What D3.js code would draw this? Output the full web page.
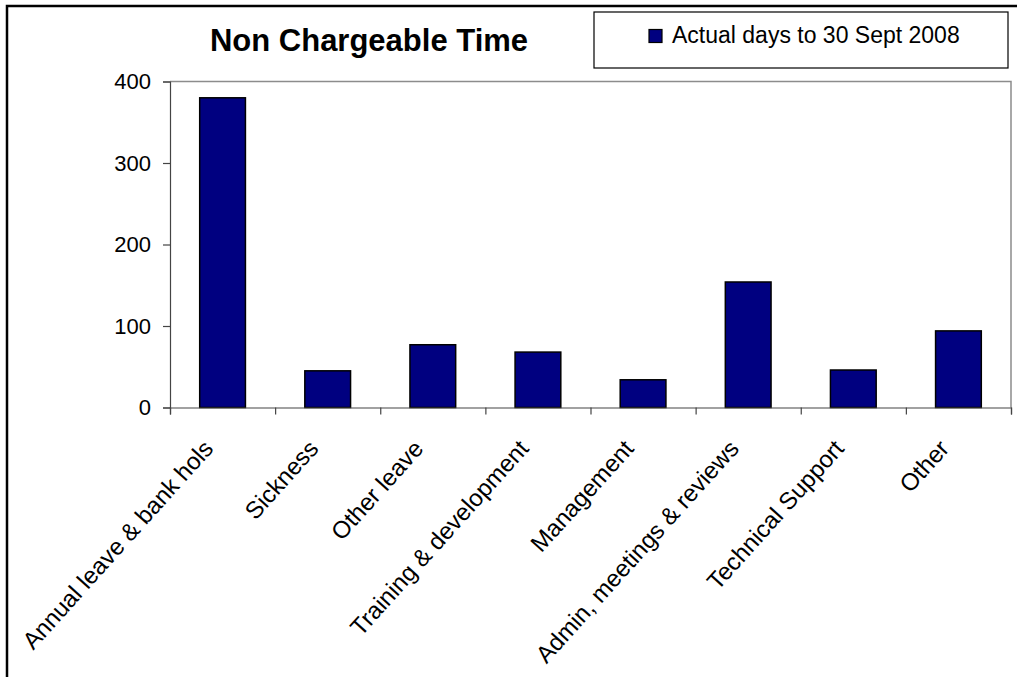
<!DOCTYPE html>
<html>
<head>
<meta charset="utf-8">
<script src="https://cdn.jsdelivr.net/npm/d3@7"></script>
<style>
  html, body { margin: 0; padding: 0; background: #fff; }
  svg { display: block; font-family: Arial, "Liberation Sans", sans-serif; }
</style>
</head>
<body>
<svg id="chart" width="1017" height="677"></svg>
<script>
// Non chargeable time, actual days to 30 Sept 2008
const categories = [
  "Annual leave & bank hols",
  "Sickness",
  "Other leave",
  "Training & development",
  "Management",
  "Admin, meetings & reviews",
  "Technical Support",
  "Other"
];
const actualDays = [380, 45, 77, 68, 34, 154, 46, 94];
const yTicks = [0, 100, 200, 300, 400];
const seriesName = "Actual days to 30 Sept 2008";
const chartTitle = "Non Chargeable Time";

const svg = d3.select("#chart");
const W = 1017, H = 677;
const plot = { left: 170, right: 1011, top: 81.5, bottom: 407.5 };

// outer chart frame (runs off the right and bottom edges)
svg.append("rect")
  .attr("x", 7).attr("y", 6)
  .attr("width", W + 20).attr("height", H + 20)
  .attr("fill", "none").attr("stroke", "#000").attr("stroke-width", 2.5);

const x = d3.scaleBand()
  .domain(categories)
  .range([plot.left, plot.right])
  .paddingInner(0.565)
  .paddingOuter(0.2825);

const y = d3.scaleLinear().domain([0, 400]).range([plot.bottom, plot.top]);

// plot-area border (top and right edges)
svg.append("path")
  .attr("d", `M${plot.left},${plot.top}H${plot.right}V${plot.bottom}`)
  .attr("fill", "none").attr("stroke", "#8c8c8c").attr("stroke-width", 1.5);

// bars
svg.append("g").selectAll("rect")
  .data(categories)
  .join("rect")
  .attr("x", d => x(d))
  .attr("y", (d, i) => y(actualDays[i]))
  .attr("width", x.bandwidth())
  .attr("height", (d, i) => y(0) - y(actualDays[i]))
  .attr("fill", "#000080")
  .attr("stroke", "#000")
  .attr("stroke-width", 1.5);

// y axis
const yAxis = svg.append("g")
  .attr("transform", `translate(${plot.left},0)`)
  .call(d3.axisLeft(y).tickValues(yTicks).tickSize(7).tickPadding(12).tickFormat(d3.format("d")));
yAxis.select(".domain").attr("stroke", "#444").attr("stroke-width", 1.2);
yAxis.selectAll(".tick line").attr("stroke", "#444").attr("stroke-width", 1.2);
yAxis.selectAll(".tick text")
  .attr("font-size", 22).attr("fill", "#000")
  .attr("font-family", "Arial, 'Liberation Sans', sans-serif")
  .attr("dy", "0.33em");

// x axis: tick marks on the category boundaries
const xb = d3.scaleLinear().domain([0, categories.length]).range([plot.left, plot.right]);
const xAxis = svg.append("g")
  .attr("transform", `translate(0,${plot.bottom})`)
  .call(d3.axisBottom(xb).tickValues(d3.range(categories.length + 1)).tickSize(7).tickFormat(""));
xAxis.select(".domain").attr("stroke", "#444").attr("stroke-width", 1.2);
xAxis.selectAll(".tick line").attr("stroke", "#444").attr("stroke-width", 1.2);

// rotated category labels
svg.append("g").selectAll("text")
  .data(categories)
  .join("text")
  .attr("transform", d => `translate(${x(d) + x.bandwidth() / 2 - 8},${plot.bottom + 42}) rotate(-48)`)
  .attr("text-anchor", "end")
  .attr("font-size", 24)
  .attr("fill", "#000")
  .text(d => d);

// title
svg.append("text")
  .attr("x", 369).attr("y", 51)
  .attr("text-anchor", "middle")
  .attr("font-size", 31).attr("font-weight", "bold")
  .attr("fill", "#000")
  .text(chartTitle);

// legend
const lg = svg.append("g");
lg.append("rect")
  .attr("x", 594).attr("y", 12).attr("width", 414).attr("height", 56)
  .attr("fill", "#fff").attr("stroke", "#000").attr("stroke-width", 1.2);
lg.append("rect")
  .attr("x", 649).attr("y", 29.5).attr("width", 13).attr("height", 13)
  .attr("fill", "#000080").attr("stroke", "#000").attr("stroke-width", 1.2);
lg.append("text")
  .attr("x", 672).attr("y", 43)
  .attr("font-size", 23).attr("fill", "#000")
  .text(seriesName);
</script>
</body>
</html>
